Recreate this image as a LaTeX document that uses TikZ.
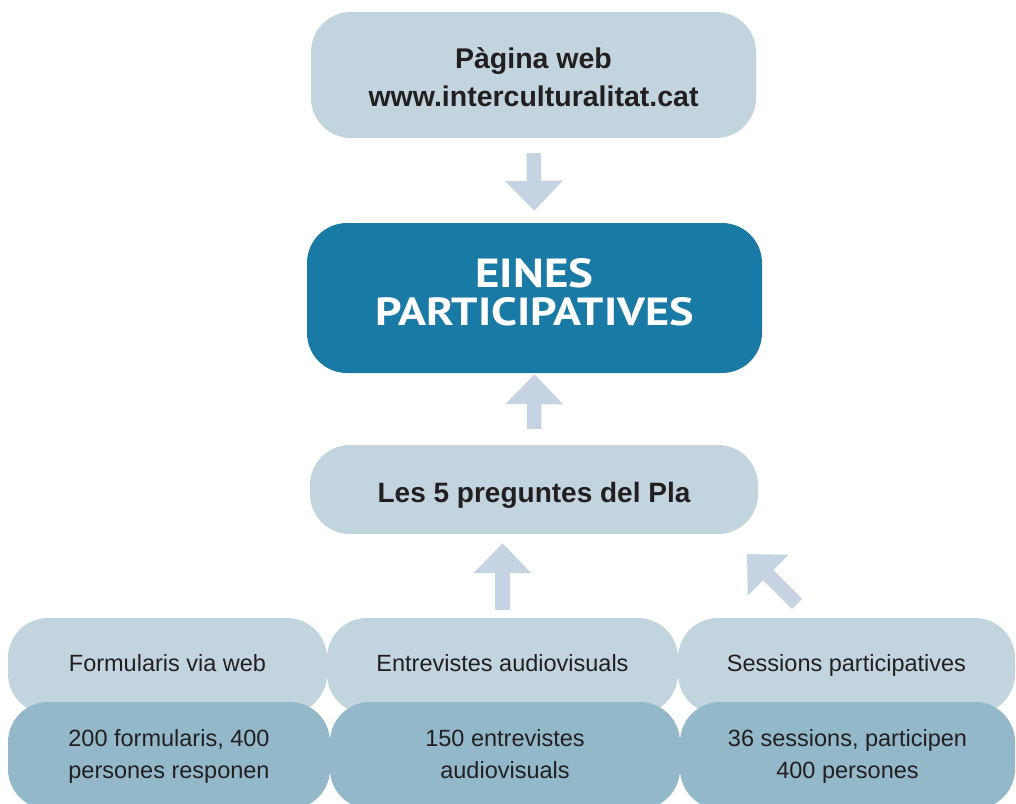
\documentclass[tikz,border=0pt]{standalone}
\usepackage{fontspec}
\setmainfont{Liberation Sans}
\newfontfamily\titlefont{PT Sans}
\usetikzlibrary{arrows.meta}
\definecolor{lightbox}{HTML}{C2D4DE}
\definecolor{darkbox}{HTML}{93B8C9}
\definecolor{mainbox}{HTML}{1A7AA6}
\definecolor{arrowcol}{HTML}{C5D3E3}
\definecolor{txt}{HTML}{231F20}
\newcommand{\twolines}[2]{\begin{tabular}[b]{@{}c@{}}#1\\#2\end{tabular}}
\begin{document}
\begin{tikzpicture}[x=1pt,y=-1pt,
  box/.style={rectangle, rounded corners=40pt, inner sep=0pt, anchor=center, text=txt},
  lbox/.style={box, fill=lightbox},
  dbox/.style={box, fill=darkbox},
  regtxt/.style={font=\fontsize{23.5}{31.5}\selectfont},
  blockarrow/.style={draw=arrowcol, line width=14.5pt, -{Triangle[width=56pt,length=30pt]}}
]
\useasboundingbox (0,0) rectangle (1016,803);
\begin{scope}
\clip (0,0) rectangle (1016,803);
% top boxes
\node[lbox, font=\fontsize{28.5}{38}\selectfont\bfseries, minimum width=445pt, minimum height=126pt,
  text height=62pt, text depth=0pt] (web) at (533.5,75) {\twolines{Pàgina web}{www.interculturalitat.cat}};
\node[box, fill=mainbox, text=white, minimum width=455pt, minimum height=150pt,
  text height=54pt, text depth=0pt,
  font=\fontsize{40}{38}\selectfont\titlefont\bfseries] (eines) at (534.5,298)
  {\twolines{\smash{\resizebox{118pt}{29pt}{EINES}}}{\smash{\resizebox{319pt}{28pt}{PARTICIPATIVES}}}};
\node[lbox, font=\fontsize{28}{38}\selectfont\bfseries, minimum width=448pt, minimum height=89pt,
  text height=25pt, text depth=0pt] (pla) at (534,489.5) {Les 5 preguntes del Pla};
% bottom light row
\begin{scope}[every node/.append style={lbox, regtxt, minimum height=96pt, text height=17pt, text depth=7pt}]
\node[minimum width=319pt] (l1) at (167.5,666) {Formularis via web};
\node[minimum width=351pt] (l2) at (502.5,666) {Entrevistes audiovisuals};
\node[minimum width=337pt] (l3) at (846.5,666) {Sessions participatives};
\end{scope}
% bottom dark row
\begin{scope}[every node/.append style={dbox, regtxt, minimum height=107pt, text height=45pt, text depth=0pt}]
\node[minimum width=322pt] (d1) at (169,755.5) {\twolines{200 formularis, 400}{persones responen}};
\node[minimum width=350pt] (d2) at (505,755.5) {\twolines{150 entrevistes}{audiovisuals}};
\node[minimum width=335pt] (d3) at (847.5,755.5) {\twolines{36 sessions, participen}{400 persones}};
\end{scope}
\end{scope}
% arrows
\draw[blockarrow, shorten <=15pt, shorten >=12pt] (web.south) -- (eines.north);
\draw[blockarrow, shorten <=16pt, shorten >=1pt] (pla.north) -- (eines.south);
\draw[blockarrow, shorten <=8pt, shorten >=9pt] (l2.north) -- (l2.north |- pla.south);
\coordinate (diagtail) at (797,604);
\coordinate (diagtip) at (747,554);
\draw[blockarrow] (diagtail) -- (diagtip);
\end{tikzpicture}
\end{document}
